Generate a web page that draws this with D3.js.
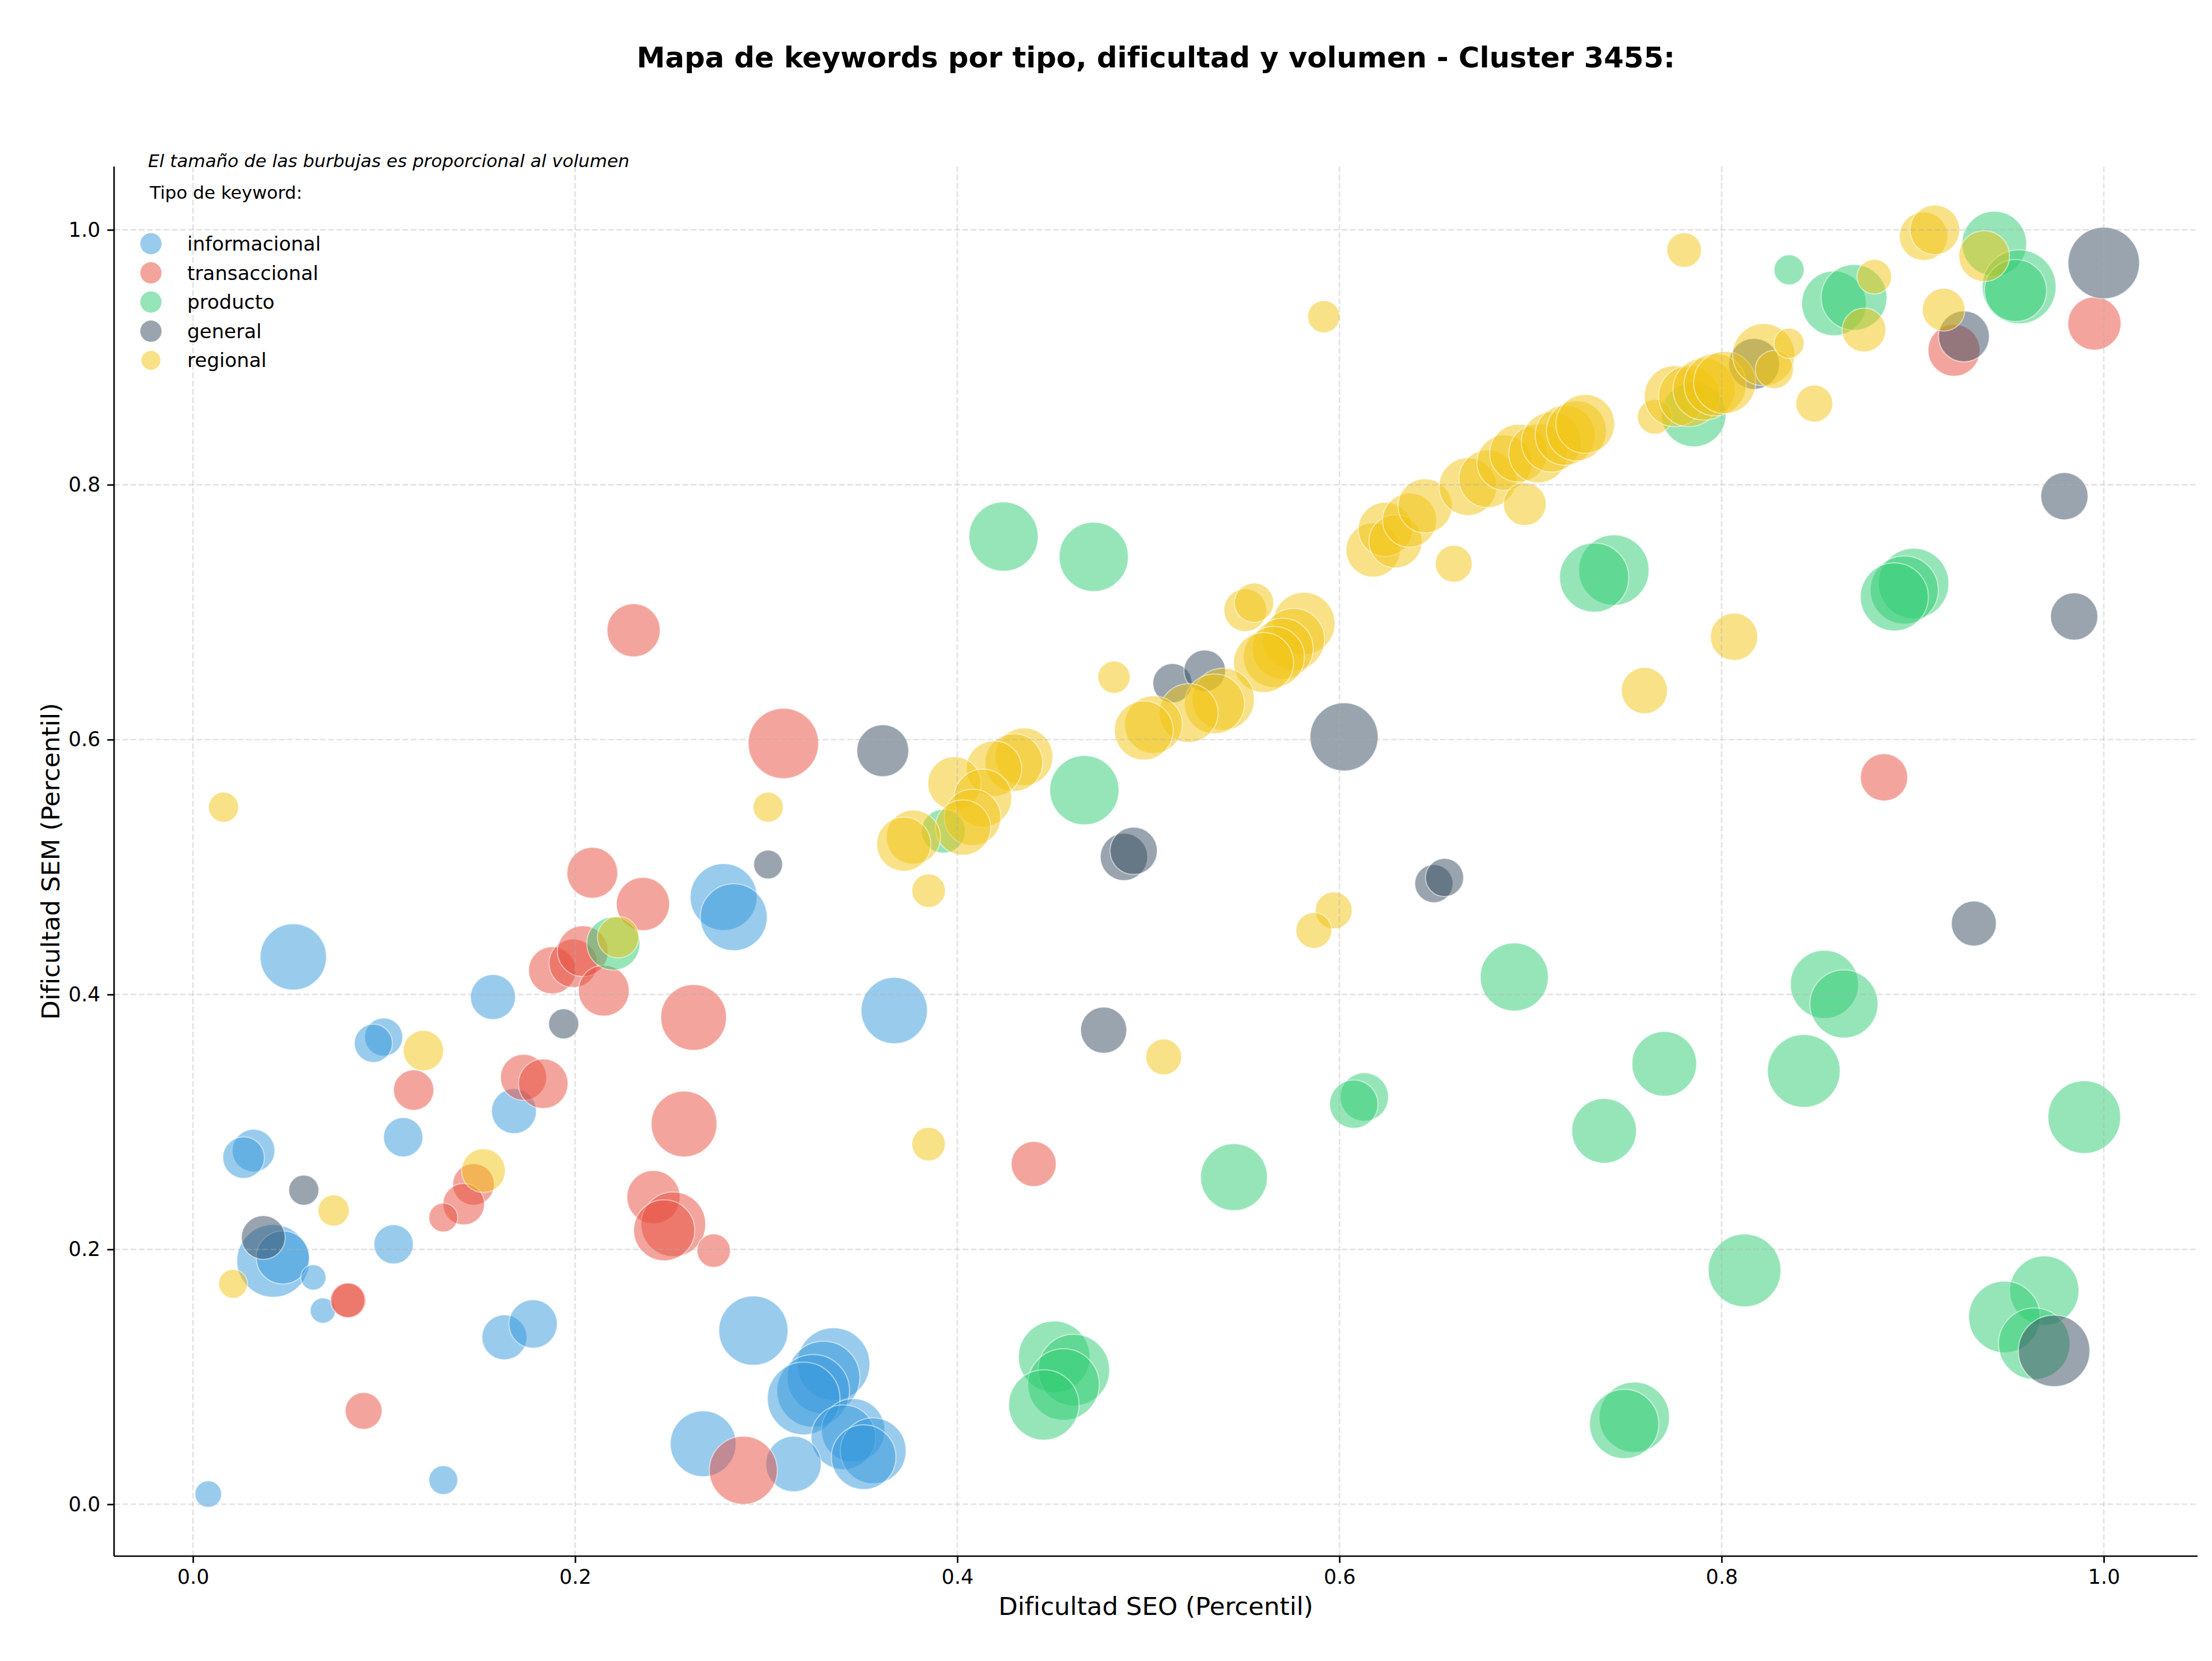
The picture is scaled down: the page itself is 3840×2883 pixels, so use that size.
<!DOCTYPE html>
<html lang="es">
  <head>
    <meta charset="utf-8">
    <title>Mapa de keywords - Cluster 3455</title>
    <script src="https://cdn.jsdelivr.net/npm/d3@7"></script>
    <style type="text/css">
      body {
        margin: 0;
        background-color: #ffffff;
      }
      svg text {
        font-family: "DejaVu Sans", sans-serif;
        fill: #000;
      }
    </style>
  </head>
  <body>
    <div id="chart"></div>

    <script>
    // data: [dificultad SEO, dificultad SEM, volumen]
    var informacional = [
      [0.008, 0.008, 530], [0.131, 0.019, 625], [0.0525, 0.4295, 3300],
      [0.0998, 0.3666, 1090], [0.0944, 0.3617, 1090], [0.110, 0.288, 1160],
      [0.105, 0.204, 1160], [0.0317, 0.2775, 1370], [0.0265, 0.272, 1300],
      [0.042, 0.191, 3970], [0.047, 0.1937, 2120], [0.063, 0.178, 480],
      [0.068, 0.152, 480], [0.157, 0.398, 1520], [0.168, 0.3085, 1520],
      [0.163, 0.131, 1520], [0.178, 0.1415, 1760], [0.2777, 0.4765, 3360],
      [0.283, 0.4607, 3360], [0.367, 0.3874, 3300], [0.2933, 0.1363, 3600],
      [0.3352, 0.110, 3970], [0.330, 0.0994, 3970], [0.3246, 0.089, 3970],
      [0.3196, 0.083, 3970], [0.3455, 0.058, 3025], [0.3404, 0.0526, 3140],
      [0.356, 0.042, 3250], [0.351, 0.037, 3140], [0.267, 0.0475, 3250],
      [0.3143, 0.0316, 2300]
    ];

    var transaccional = [
      [0.209, 0.4955, 1940], [0.2355, 0.471, 2120], [0.188, 0.419, 1680],
      [0.199, 0.4245, 1760], [0.204, 0.434, 1940], [0.215, 0.403, 1940],
      [0.1155, 0.325, 1225], [0.173, 0.335, 1600], [0.1833, 0.330, 1850],
      [0.1468, 0.251, 1300], [0.1417, 0.2355, 1300], [0.131, 0.225, 625],
      [0.0815, 0.160, 900], [0.081, 0.160, 900], [0.0893, 0.0733, 1020],
      [0.2306, 0.6858, 2120], [0.309, 0.597, 3720], [0.262, 0.382, 3250],
      [0.257, 0.2984, 3250], [0.241, 0.241, 2120], [0.2514, 0.2197, 3140],
      [0.2466, 0.215, 2800], [0.2725, 0.199, 840], [0.288, 0.0267, 3480],
      [0.440, 0.267, 1520], [0.885, 0.5704, 1680], [0.9216, 0.9055, 2025],
      [0.9951, 0.9265, 2120]
    ];

    var producto = [
      [0.220, 0.440, 2120], [0.4242, 0.7593, 3600], [0.4714, 0.7434, 3600],
      [0.4665, 0.5603, 3600], [0.3927, 0.5282, 1440], [0.6915, 0.4137, 3480],
      [0.613, 0.3196, 1760], [0.6075, 0.314, 1760], [0.5448, 0.2567, 3360],
      [0.7385, 0.293, 3140], [0.770, 0.3456, 3140], [0.7543, 0.0683, 3720],
      [0.749, 0.063, 3600], [0.4507, 0.1157, 3840], [0.461, 0.1053, 3840],
      [0.4556, 0.094, 3840], [0.4453, 0.078, 3720], [0.8538, 0.408, 3480],
      [0.864, 0.3926, 3480], [0.843, 0.340, 3970], [0.9898, 0.3038, 3970],
      [0.812, 0.1835, 3970], [0.9689, 0.1677, 3600], [0.948, 0.147, 3840],
      [0.9636, 0.126, 3840], [0.7436, 0.733, 3720], [0.7333, 0.7272, 3600],
      [0.9005, 0.7225, 3720], [0.8956, 0.7174, 3480], [0.8904, 0.712, 3480],
      [0.7854, 0.8551, 3140], [0.8353, 0.9686, 680], [0.8588, 0.9423, 3140],
      [0.8693, 0.947, 3250], [0.9427, 0.9892, 3140], [0.9557, 0.9553, 4100],
      [0.9538, 0.9524, 2900]
    ];

    var general = [
      [0.194, 0.377, 680], [0.058, 0.2465, 680], [0.0368, 0.2093, 1440],
      [0.301, 0.502, 625], [0.361, 0.5913, 2025], [0.4766, 0.372, 1600],
      [0.5126, 0.6443, 1160], [0.5295, 0.654, 1300], [0.6024, 0.6021, 3480],
      [0.4872, 0.508, 1680], [0.4923, 0.5127, 1680], [0.6494, 0.487, 1090],
      [0.655, 0.4918, 1090], [0.932, 0.4557, 1520], [0.974, 0.1204, 3840],
      [0.817, 0.8948, 1940], [0.9268, 0.9164, 1940], [1.000, 0.974, 3840],
      [0.9794, 0.791, 1680], [0.9845, 0.6966, 1680]
    ];

    var regional = [
      [0.016, 0.547, 680], [0.301, 0.547, 680], [0.1206, 0.356, 1225],
      [0.0736, 0.2305, 730], [0.021, 0.173, 625], [0.152, 0.2618, 1440],
      [0.2225, 0.445, 1300], [0.385, 0.4815, 840], [0.385, 0.2826, 840],
      [0.508, 0.351, 960], [0.597, 0.466, 1020], [0.5866, 0.4503, 960],
      [0.5918, 0.9319, 780], [0.482, 0.649, 780], [0.5507, 0.7016, 1370],
      [0.5553, 0.7074, 1160], [0.5814, 0.6912, 2900], [0.576, 0.6786, 2900],
      [0.5703, 0.6713, 2800], [0.5657, 0.6649, 2800], [0.5603, 0.6605, 2700],
      [0.5392, 0.6317, 2900], [0.5346, 0.6281, 2700], [0.5211, 0.6209, 2600],
      [0.5027, 0.6118, 2500], [0.4976, 0.6072, 2600], [0.4349, 0.5866, 2500],
      [0.4296, 0.582, 2500], [0.4192, 0.5773, 2300], [0.3985, 0.5657, 2120],
      [0.4134, 0.5542, 2500], [0.408, 0.539, 2400], [0.403, 0.531, 2300],
      [0.377, 0.5235, 2200], [0.372, 0.518, 2200], [0.6176, 0.7488, 2200],
      [0.624, 0.765, 2200], [0.6293, 0.7556, 2120], [0.6367, 0.7722, 2200],
      [0.6448, 0.7834, 2200], [0.6598, 0.738, 1020], [0.6672, 0.7985, 2500],
      [0.6776, 0.8047, 2500], [0.6864, 0.8173, 2300], [0.6937, 0.8248, 2500],
      [0.697, 0.7848, 1370], [0.704, 0.8246, 2600], [0.7109, 0.8335, 2700],
      [0.7181, 0.8388, 2700], [0.724, 0.8423, 2700], [0.7286, 0.8477, 2600],
      [0.765, 0.8533, 900], [0.7755, 0.8695, 2800], [0.783, 0.8695, 2800],
      [0.7908, 0.875, 2900], [0.7966, 0.8785, 2900], [0.8016, 0.8802, 2900],
      [0.822, 0.902, 2900], [0.8276, 0.8904, 1090], [0.8353, 0.911, 680],
      [0.8485, 0.8637, 1020], [0.7804, 0.9842, 900], [0.8799, 0.9632, 900],
      [0.8745, 0.9214, 1440], [0.9057, 0.995, 1760], [0.9116, 1.000, 1850],
      [0.9374, 0.9794, 1940], [0.9162, 0.9373, 1370], [0.8065, 0.6807, 1680],
      [0.7596, 0.6385, 1600]
    ];

    var tipos = ["informacional", "transaccional", "producto", "general", "regional"];
    var colores = ["#3498db", "#e74c3c", "#2ecc71", "#34495e", "#f1c40f"];
    var series = [informacional, transaccional, producto, general, regional];
    var ticks = [0, 0.2, 0.4, 0.6, 0.8, 1.0];

    // dimensions
    var W = 3840, H = 2883;
    var margin = {top: 289, right: 25, bottom: 182, left: 198},
      width = W - margin.left - margin.right,
      height = H - margin.top - margin.bottom;

    var svg = d3.select("#chart")
      .append("svg")
        .attr("width", W)
        .attr("height", H);

    var g = svg.append("g")
        .attr("transform", "translate(" + margin.left + "," + margin.top + ")");

    var x = d3.scaleLinear().domain([-0.0413, 1.0491]).range([0, width]);
    var y = d3.scaleLinear().domain([-0.0407, 1.0497]).range([height, 0]);
    var r = d3.scaleSqrt().domain([0, 4096]).range([0, 64]);
    var color = d3.scaleOrdinal().domain(tipos).range(colores);

    // bubbles, one layer per type
    series.forEach(function(s, i) {
      g.append("g")
        .selectAll("circle")
        .data(s)
        .enter()
        .append("circle")
          .attr("cx", function(d) { return x(d[0]); })
          .attr("cy", function(d) { return y(d[1]); })
          .attr("r", function(d) { return r(d[2]); })
          .style("fill", color(tipos[i]))
          .style("fill-opacity", 0.5)
          .style("stroke", "#ffffff")
          .style("stroke-opacity", 0.5)
          .style("stroke-width", 2);
    });

    // dashed grid (drawn over the bubbles like matplotlib)
    var grid = g.append("g").attr("class", "grid");
    grid.selectAll("line.v")
      .data(ticks)
      .enter()
      .append("line")
        .attr("x1", function(d) { return x(d); })
        .attr("x2", function(d) { return x(d); })
        .attr("y1", 0)
        .attr("y2", height);
    grid.selectAll("line.h")
      .data(ticks)
      .enter()
      .append("line")
        .attr("x1", 0)
        .attr("x2", width)
        .attr("y1", function(d) { return y(d); })
        .attr("y2", function(d) { return y(d); });
    grid.selectAll("line")
      .style("stroke", "#b0b0b0")
      .style("stroke-opacity", 0.35)
      .style("stroke-width", 2.7)
      .style("stroke-dasharray", "10,4.3");

    // axes (spines drawn by hand, only left and bottom)
    var xAxis = g.append("g")
      .attr("transform", "translate(0," + height + ")")
      .call(d3.axisBottom(x).tickValues(ticks).tickFormat(d3.format(".1f")).tickSizeOuter(0).tickSize(11.7).tickPadding(11));
    var yAxis = g.append("g")
      .call(d3.axisLeft(y).tickValues(ticks).tickFormat(d3.format(".1f")).tickSizeOuter(0).tickSize(11.7).tickPadding(12));

    [xAxis, yAxis].forEach(function(a) {
      a.select(".domain").remove();
      a.selectAll(".tick line").style("stroke", "#000").style("stroke-width", 2.7);
      a.selectAll(".tick text")
        .style("font-family", "DejaVu Sans")
        .style("font-size", "35px")
        .style("fill", "#000");
    });

    g.append("line")
      .attr("x1", 0).attr("x2", 0)
      .attr("y1", 0).attr("y2", height)
      .style("stroke", "#000").style("stroke-width", 2.7);
    g.append("line")
      .attr("x1", 0).attr("x2", width)
      .attr("y1", height).attr("y2", height)
      .style("stroke", "#000").style("stroke-width", 2.7);

    // axis labels
    svg.append("text")
      .attr("x", margin.left + width / 2)
      .attr("y", 2803)
      .attr("text-anchor", "middle")
      .attr("font-size", "43.5px")
      .text("Dificultad SEO (Percentil)");

    svg.append("text")
      .attr("transform", "translate(103," + (margin.top + height / 2) + ") rotate(-90)")
      .attr("text-anchor", "middle")
      .attr("font-size", "43.5px")
      .text("Dificultad SEM (Percentil)");

    // title
    svg.append("text")
      .attr("x", margin.left + width / 2)
      .attr("y", 117)
      .attr("text-anchor", "middle")
      .attr("font-size", "49.7px")
      .attr("font-weight", "bold")
      .text("Mapa de keywords por tipo, dificultad y volumen - Cluster 3455:");

    // note + legend
    svg.append("text")
      .attr("x", 257)
      .attr("y", 290)
      .attr("font-size", "31px")
      .attr("font-style", "italic")
      .text("El tamaño de las burbujas es proporcional al volumen");

    svg.append("text")
      .attr("x", 260)
      .attr("y", 345)
      .attr("font-size", "31px")
      .text("Tipo de keyword:");

    var legend = svg.append("g")
      .selectAll("g")
      .data(tipos)
      .enter()
      .append("g")
        .attr("transform", function(d, i) { return "translate(262," + (423 + i * 50.6) + ")"; });

    legend.append("circle")
      .attr("r", function(d) { return d === "regional" ? 16.5 : 18.5; })
      .style("fill", function(d) { return color(d); })
      .style("fill-opacity", 0.5);

    legend.append("text")
      .attr("x", 63)
      .attr("dy", "0.35em")
      .attr("font-size", "34px")
      .text(function(d) { return d; });
    </script>
  </body>
</html>
